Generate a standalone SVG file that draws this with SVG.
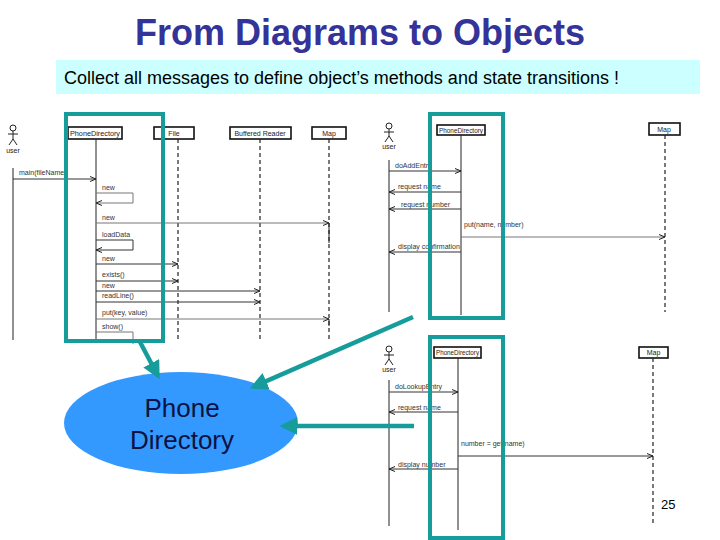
<svg xmlns="http://www.w3.org/2000/svg" width="720" height="540" viewBox="0 0 720 540">
<defs>
<style>
.t{font-family:"Liberation Sans",Arial,sans-serif}
.lbl{font-family:"Liberation Sans",Arial,sans-serif;font-size:7px;fill:#333}
.obj{fill:#fff;stroke:#111;stroke-width:1.6}
.objt{font-family:"Liberation Sans",Arial,sans-serif;font-size:7px;fill:#222;text-anchor:middle}
.life{stroke:#222;stroke-width:1}
.dash{stroke:#222;stroke-width:1.2;stroke-dasharray:4,3}
.msg{stroke:#333;stroke-width:1;fill:none}
.msgg{stroke:#777;stroke-width:1;fill:none}
.act{stroke:#222;stroke-width:1;fill:none}
.hl{fill:none;stroke:#179C9C;stroke-width:4}
.ta{stroke:#179C9C;stroke-width:4.5;fill:none}
</style>
<marker id="ah" viewBox="0 0 6 6" refX="6" refY="3" markerWidth="6" markerHeight="6" orient="auto" markerUnits="userSpaceOnUse">
<path d="M0,0.5 L6,3 L0,5.5" fill="none" stroke="#222" stroke-width="1"/>
</marker>
<marker id="tah" viewBox="0 0 10 10" refX="8" refY="5" markerWidth="4" markerHeight="4" orient="auto">
<path d="M0,0 L10,5 L0,10 Z" fill="#179C9C"/>
</marker>
</defs>
<rect width="720" height="540" fill="#fff"/>

<g id="title">
<text class="t" x="360" y="45" font-size="36" font-weight="bold" fill="#333399" text-anchor="middle">From Diagrams to Objects</text>
</g>
<g id="subtitle">
<rect x="56" y="60" width="644" height="34" fill="#CCFFFF"/>
<text class="t" x="64" y="84" font-size="18" fill="#000">Collect all messages to define object’s methods and state transitions !</text>
</g>

<!-- Left sequence diagram -->
<g id="seq1">
<g id="seq1-user">
<circle cx="13" cy="128" r="3" class="act"/>
<path d="M13,131 V139 M8,134 H18 M13,139 L9,145 M13,139 L17,145" class="act"/>
<text class="objt" x="13" y="153" font-size="6">user</text>
<line x1="13" y1="168" x2="13" y2="340" class="life"/>
</g>
<g id="seq1-pd">
<rect x="68" y="127" width="54" height="12" class="obj"/>
<text class="objt" x="95" y="136" textLength="50" lengthAdjust="spacingAndGlyphs">PhoneDirectory</text>
<line x1="96" y1="139" x2="96" y2="342" class="life"/>
</g>
<g id="seq1-file">
<rect x="154" y="127" width="40" height="12" class="obj"/>
<text class="objt" x="174" y="136">File</text>
<line x1="178" y1="139" x2="178" y2="340" class="dash"/>
</g>
<g id="seq1-br">
<rect x="230" y="127" width="61" height="12" class="obj"/>
<text class="objt" x="260" y="136">Buffered Reader</text>
<line x1="260" y1="139" x2="260" y2="340" class="dash"/>
</g>
<g id="seq1-map">
<rect x="312" y="127" width="34" height="12" class="obj"/>
<text class="objt" x="329" y="136">Map</text>
<line x1="329" y1="139" x2="329" y2="340" class="dash"/>
<line x1="329" y1="223" x2="329" y2="243" class="life"/>
<line x1="329" y1="319" x2="329" y2="326" class="life"/>
</g>
<g id="seq1-messages">
<line x1="13" y1="179" x2="96" y2="179" class="msg" marker-end="url(#ah)"/>
<text class="lbl" x="19" y="175">main(fileName)</text>
<text class="lbl" x="102" y="190">new</text>
<path d="M96,193 H133 V203 H96" class="msgg" marker-end="url(#ah)"/>
<text class="lbl" x="102" y="220">new</text>
<line x1="96" y1="223" x2="329" y2="223" class="msgg" marker-end="url(#ah)"/>
<text class="lbl" x="102" y="237">loadData</text>
<path d="M96,240 H133 V250 H96" class="msg" marker-end="url(#ah)"/>
<text class="lbl" x="102" y="261">new</text>
<line x1="96" y1="264" x2="178" y2="264" class="msg" marker-end="url(#ah)"/>
<text class="lbl" x="102" y="277">exists()</text>
<line x1="96" y1="281" x2="178" y2="281" class="msg" marker-end="url(#ah)"/>
<text class="lbl" x="102" y="288">new</text>
<line x1="96" y1="291" x2="260" y2="291" class="msg" marker-end="url(#ah)"/>
<text class="lbl" x="102" y="298">readLine()</text>
<line x1="96" y1="302" x2="260" y2="302" class="msg" marker-end="url(#ah)"/>
<text class="lbl" x="102" y="315">put(key, value)</text>
<line x1="96" y1="319" x2="329" y2="319" class="msgg" marker-end="url(#ah)"/>
<text class="lbl" x="102" y="329">show()</text>
<path d="M96,332 H133 V344" class="msgg"/>
</g>
</g>

<!-- Top right sequence diagram -->
<g id="seq2">
<g id="seq2-user">
<circle cx="389" cy="126" r="3" class="act"/>
<path d="M389,129 V136 M384,132 H394 M389,136 L385,142 M389,136 L393,142" class="act"/>
<text class="objt" x="389" y="149" font-size="6">user</text>
<line x1="389" y1="160" x2="389" y2="312" class="life"/>
</g>
<g id="seq2-pd">
<rect x="437" y="125" width="48" height="10" class="obj"/>
<text class="objt" x="461" y="132.5" font-size="6" textLength="44" lengthAdjust="spacingAndGlyphs">PhoneDirectory</text>
<line x1="461" y1="135" x2="461" y2="315" class="life"/>
</g>
<g id="seq2-map">
<rect x="649" y="123" width="31" height="12" class="obj"/>
<text class="objt" x="664" y="131.5" font-size="6">Map</text>
<line x1="665" y1="135" x2="665" y2="312" class="dash" stroke="#555"/>
</g>
<g id="seq2-messages">
<text class="lbl" x="395" y="168" font-size="6">doAddEntry</text>
<line x1="389" y1="171" x2="461" y2="171" class="msg" stroke-width="1.4" marker-end="url(#ah)"/>
<text class="lbl" x="398" y="189" font-size="6">request name</text>
<line x1="461" y1="192" x2="389" y2="192" class="msg" marker-end="url(#ah)"/>
<text class="lbl" x="401" y="207" font-size="6">request number</text>
<line x1="461" y1="209" x2="389" y2="209" class="msg" marker-end="url(#ah)"/>
<text class="lbl" x="464" y="227" font-size="6">put(name, number)</text>
<line x1="461" y1="237" x2="665" y2="237" class="msgg" stroke-width="1.4" marker-end="url(#ah)"/>
<text class="lbl" x="398" y="249" font-size="6">display confirmation</text>
<line x1="461" y1="252" x2="389" y2="252" class="msg" marker-end="url(#ah)"/>
</g>
</g>

<!-- Bottom right sequence diagram -->
<g id="seq3">
<g id="seq3-user">
<circle cx="389" cy="349" r="3" class="act"/>
<path d="M389,352 V359 M384,355 H394 M389,359 L385,365 M389,359 L393,365" class="act"/>
<text class="objt" x="389" y="372" font-size="6">user</text>
<line x1="389" y1="380" x2="389" y2="526" class="life"/>
</g>
<g id="seq3-pd">
<rect x="434" y="347" width="47" height="11" class="obj"/>
<text class="objt" x="457.5" y="355" font-size="6" textLength="43" lengthAdjust="spacingAndGlyphs">PhoneDirectory</text>
<line x1="458" y1="358" x2="458" y2="530" class="life" stroke="#666"/>
</g>
<g id="seq3-map">
<rect x="639" y="347" width="29" height="11" class="obj"/>
<text class="objt" x="653.5" y="355" font-size="6">Map</text>
<line x1="653" y1="358" x2="653" y2="525" class="dash"/>
</g>
<g id="seq3-messages">
<text class="lbl" x="395" y="389" font-size="6">doLookupEntry</text>
<line x1="389" y1="392" x2="458" y2="392" class="msg" marker-end="url(#ah)"/>
<text class="lbl" x="398" y="410" font-size="6">request name</text>
<line x1="458" y1="412" x2="389" y2="412" class="msg" marker-end="url(#ah)"/>
<text class="lbl" x="461" y="446" font-size="6">number = get(name)</text>
<line x1="458" y1="456" x2="653" y2="456" class="msg" marker-end="url(#ah)"/>
<text class="lbl" x="398" y="467" font-size="6">display number</text>
<line x1="458" y1="469" x2="389" y2="469" class="msg" marker-end="url(#ah)"/>
</g>
</g>

<!-- Highlight boxes -->
<g id="highlights">
<rect x="66" y="114" width="97" height="227" class="hl"/>
<rect x="430" y="114" width="73" height="204" class="hl"/>
<rect x="430" y="337" width="73" height="201" class="hl"/>
</g>

<g id="phone-directory">
<ellipse cx="181" cy="423" rx="117" ry="51" fill="#3399FF"/>
<text class="t" x="182" y="417" font-size="26" fill="#0D1240" text-anchor="middle">Phone</text>
<text class="t" x="182" y="449" font-size="26" fill="#0D1240" text-anchor="middle">Directory</text>
</g>

<g id="connectors">
<line x1="140" y1="342" x2="158" y2="376" class="ta" marker-end="url(#tah)"/>
<line x1="413" y1="317" x2="253" y2="387" class="ta" marker-end="url(#tah)"/>
<line x1="414" y1="426" x2="283" y2="426" class="ta" marker-end="url(#tah)"/>
</g>

<g id="page-number">
<text class="t" x="661" y="509" font-size="13" fill="#000">25</text>
</g>
</svg>
